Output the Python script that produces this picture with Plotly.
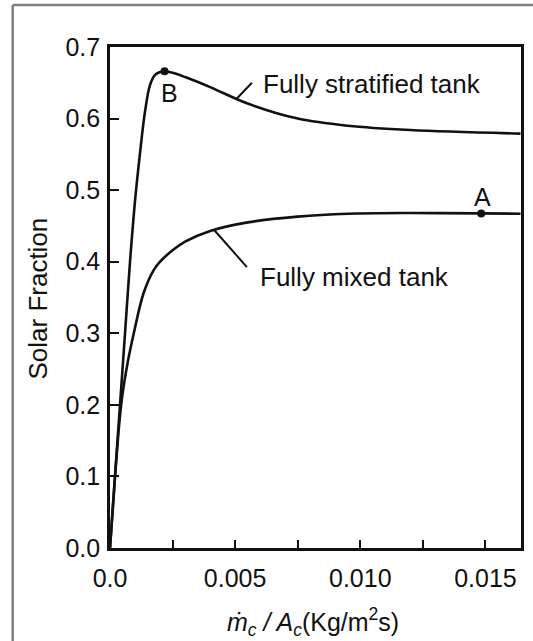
import plotly.graph_objects as go

# ---- data ----
strat_x = [0, 0.0002, 0.0004, 0.0006, 0.0008, 0.0010, 0.0012, 0.0014, 0.0016, 0.0018,
           0.0020, 0.00218, 0.0025, 0.0030, 0.0040, 0.0055, 0.0075, 0.0095, 0.0120, 0.0164]
strat_y = [0, 0.100, 0.200, 0.300, 0.400, 0.485, 0.552, 0.610, 0.647, 0.661,
           0.665, 0.666, 0.664, 0.658, 0.644, 0.621, 0.600, 0.590, 0.584, 0.579]

mix_x = [0, 0.0001, 0.0002, 0.0003, 0.0004, 0.0005, 0.0007, 0.00095, 0.00134, 0.00174,
         0.0020, 0.0025, 0.0030, 0.0040, 0.0055, 0.0075, 0.0095, 0.0120, 0.01483, 0.0164]
mix_y = [0, 0.050, 0.100, 0.145, 0.185, 0.215, 0.258, 0.300, 0.356, 0.388,
         0.400, 0.416, 0.428, 0.443, 0.455, 0.463, 0.467, 0.468, 0.4675, 0.467]

point_labels = ["B", "A"]
point_x = [0.00218, 0.01483]
point_y = [0.666, 0.4675]

x_tickvals = [0, 0.005, 0.010, 0.015]
x_ticktext = ["0.0", "0.005", "0.010", "0.015"]
y_tickvals = [0, 0.1, 0.2, 0.3, 0.4, 0.5, 0.6, 0.7]
y_ticktext = ["0.0", "0.1", "0.2", "0.3", "0.4", "0.5", "0.6", "0.7"]

curve_labels = ["Fully stratified tank", "Fully mixed tank"]

FONT = "Liberation Sans, Arial, Helvetica, sans-serif"
INK = "#111111"

fig = go.Figure()
fig.add_trace(go.Scatter(x=strat_x, y=strat_y, mode="lines",
                         line=dict(color=INK, width=2.6, shape="spline", smoothing=1.0),
                         showlegend=False, hoverinfo="skip"))
fig.add_trace(go.Scatter(x=mix_x, y=mix_y, mode="lines",
                         line=dict(color=INK, width=2.6, shape="spline", smoothing=1.0),
                         showlegend=False, hoverinfo="skip"))
fig.add_trace(go.Scatter(x=point_x, y=point_y, mode="markers",
                         marker=dict(color=INK, size=8),
                         showlegend=False, hoverinfo="skip"))

annotations = [
    dict(x=0.01048, y=0.649, text=curve_labels[0], xref="x", yref="y",
         xanchor="center", yanchor="middle",
         showarrow=False, font=dict(size=26, color=INK, family=FONT)),
    dict(x=0.00975, y=0.378, text=curve_labels[1], xref="x", yref="y",
         xanchor="center", yanchor="middle",
         showarrow=False, font=dict(size=26, color=INK, family=FONT)),
    dict(x=0.00238, y=0.6355, text=point_labels[0], xref="x", yref="y",
         xanchor="center", yanchor="middle",
         showarrow=False, font=dict(size=25, color=INK, family=FONT)),
    dict(x=0.01487, y=0.490, text=point_labels[1], xref="x", yref="y",
         xanchor="center", yanchor="middle",
         showarrow=False, font=dict(size=25, color=INK, family=FONT)),
    dict(x=0.495, y=-0.1477, xref="paper", yref="paper", showarrow=False,
         xanchor="center", yanchor="middle",
         text="<i>ṁ<sub>c</sub> / A<sub>c</sub></i>(Kg/m<sup>2</sup>s)",
         font=dict(size=25, color=INK, family=FONT)),
    dict(x=-0.1763, y=0.497, xref="paper", yref="paper", showarrow=False,
         xanchor="center", yanchor="middle",
         text="Solar Fraction", textangle=-90,
         font=dict(size=26, color=INK, family=FONT)),
]

shapes = [
    # leader lines
    dict(type="line", xref="x", yref="y", x0=0.00504, y0=0.627, x1=0.00567, y1=0.650,
         line=dict(color=INK, width=2)),
    dict(type="line", xref="x", yref="y", x0=0.00417, y0=0.444, x1=0.00547, y1=0.3925,
         line=dict(color=INK, width=2)),
    # outer gray frame (top and left edges visible)
    dict(type="line", xref="paper", yref="paper", x0=-0.2367, y0=1.0838, x1=1.2, y1=1.0838,
         line=dict(color="#808080", width=2.5)),
    dict(type="line", xref="paper", yref="paper", x0=-0.2367, y0=1.0838, x1=-0.2367, y1=-0.3,
         line=dict(color="#808080", width=2.5)),
]

fig.update_layout(
    width=533, height=641,
    margin=dict(l=110, r=9, t=47, b=93),
    paper_bgcolor="white", plot_bgcolor="white",
    font=dict(family=FONT, color=INK),
    annotations=annotations, shapes=shapes,
    showlegend=False,
)
fig.update_xaxes(range=[0, 0.01642], showgrid=False, zeroline=False,
                 showline=True, linecolor=INK, linewidth=2.6, mirror=True,
                 ticks="inside", ticklen=8, tickwidth=1.8, tickcolor=INK,
                 tickvals=x_tickvals, ticktext=x_ticktext,
                 minor=dict(ticks="inside", dtick=0.0025, ticklen=8, tickwidth=1.8, tickcolor=INK),
                 tickfont=dict(size=25, family=FONT, color=INK), ticklabelstandoff=6)
fig.update_yaxes(range=[0, 0.7], showgrid=False, zeroline=False,
                 showline=True, linecolor=INK, linewidth=2.6, mirror=True,
                 ticks="inside", ticklen=9, tickwidth=1.8, tickcolor=INK,
                 tickvals=y_tickvals, ticktext=y_ticktext,
                 tickfont=dict(size=25, family=FONT, color=INK), ticklabelstandoff=2)

fig.write_html("out.html")
